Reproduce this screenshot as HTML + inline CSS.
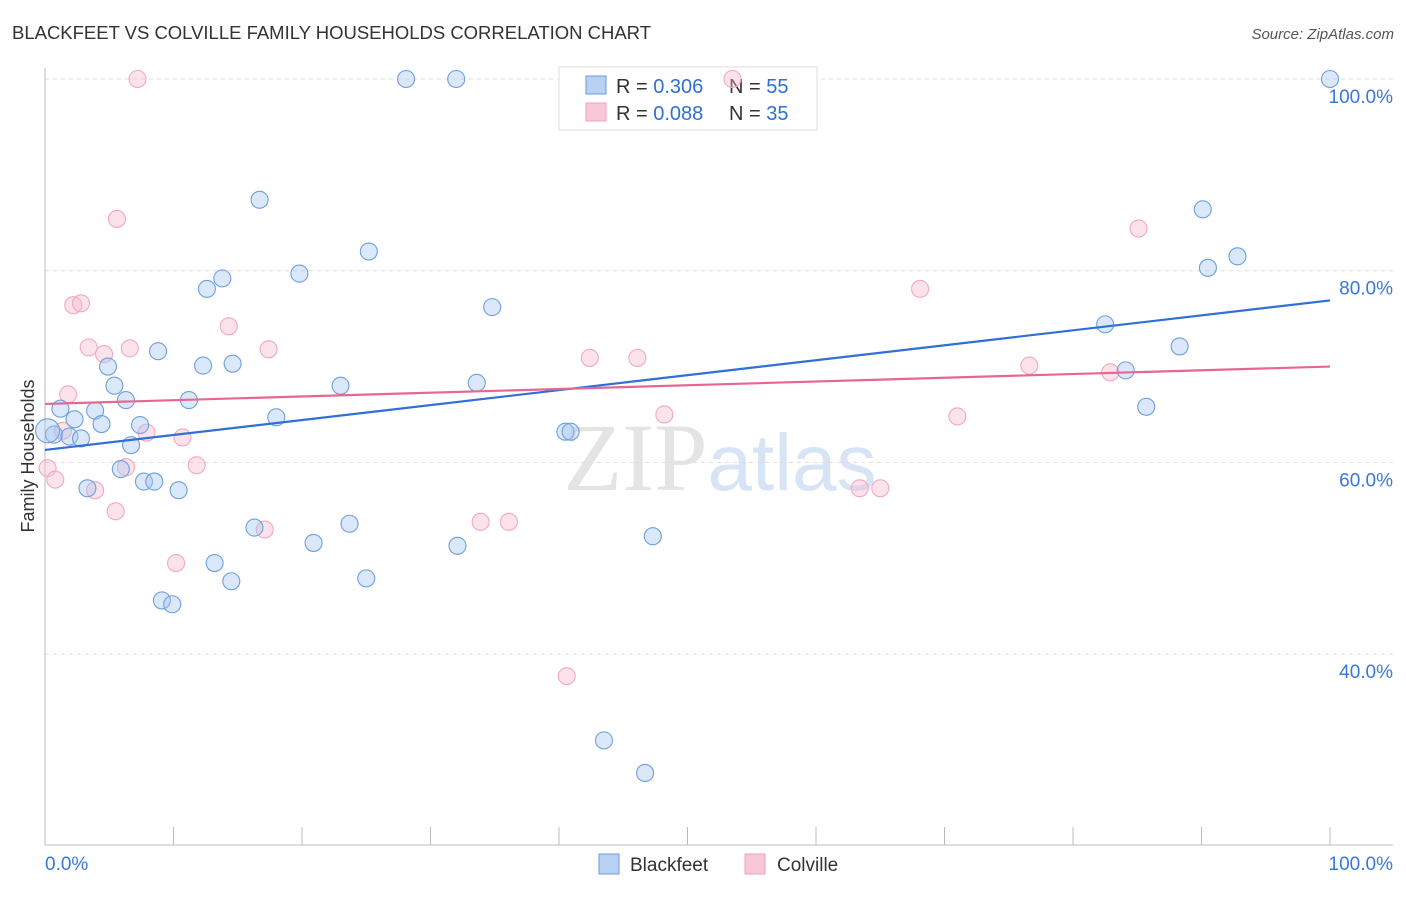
<!DOCTYPE html>
<html><head><meta charset="utf-8"><style>
body{margin:0;background:#fff;font-family:"Liberation Sans",sans-serif;}
</style></head><body>
<svg id="chart" width="1406" height="892" xmlns="http://www.w3.org/2000/svg" font-family="Liberation Sans, sans-serif">
<text x="12" y="39" font-size="18.5" fill="#333" textLength="639">BLACKFEET VS COLVILLE FAMILY HOUSEHOLDS CORRELATION CHART</text>
<text x="1394" y="39" font-size="15" fill="#555" text-anchor="end" font-style="italic">Source: ZipAtlas.com</text>
<text x="720" y="490" font-size="96" fill="#e4e4e4" text-anchor="middle" font-family="Liberation Serif, serif">ZIP<tspan fill="#d6e4f6" font-family="Liberation Sans, sans-serif" font-size="80">atlas</tspan></text>
<g id="grid"></g>
<g id="axes"></g>
<g>
<rect x="559" y="67" width="258" height="63" fill="#fff" stroke="#ddd"/>
<rect x="586" y="76" width="20" height="18" fill="#b9d2f4" stroke="#6a9be0"/>
<text x="616" y="93" font-size="20" fill="#333">R = <tspan fill="#2f6fd6">0.306</tspan></text>
<text x="729" y="93" font-size="20" fill="#333">N = <tspan fill="#2f6fd6">55</tspan></text>
<rect x="586" y="103" width="20" height="18" fill="#f9c8d6" stroke="#f0a0b8"/>
<text x="616" y="120" font-size="20" fill="#333">R = <tspan fill="#2f6fd6">0.088</tspan></text>
<text x="729" y="120" font-size="20" fill="#333">N = <tspan fill="#2f6fd6">35</tspan></text>
</g>
<g id="points"></g>
<g id="trends"></g>
<text transform="translate(34,456) rotate(-90)" font-size="18" fill="#333" text-anchor="middle">Family Households</text>
<g>
<rect x="599" y="854" width="20" height="20" fill="#b9d2f4" stroke="#6a9be0"/>
<text x="630" y="871" font-size="19" fill="#333">Blackfeet</text>
<rect x="745" y="854" width="20" height="20" fill="#f9c8d6" stroke="#f0a0b8"/>
<text x="777" y="871" font-size="19" fill="#333">Colville</text>
</g>
</svg>
<script>
const yTicks=[100,80,60,40];
const yTickLabels=["100.0%","80.0%","60.0%","40.0%"];
const blackfeetX=[100,28.1,32,16.7,25.2,19.8,13.8,12.6,34.8,8.8,12.3,14.6,4.9,5.4,23,33.6,6.3,11.2,1.2,3.9,18,2.3,4.4,7.4,0.7,1.9,2.8,6.7,5.9,7.7,8.5,3.3,10.4,16.3,23.7,20.9,32.1,47.3,13.2,14.5,25,9.1,9.9,40.5,40.9,43.5,46.7,82.5,84.1,85.7,90.1,90.5,92.8,88.3,0.2];
const blackfeetY=[100,100,100,87.4,82,79.7,79.2,78.1,76.2,71.6,70.1,70.3,70,68,68,68.3,66.5,66.5,65.6,65.4,64.7,64.5,64,63.9,62.9,62.7,62.5,61.8,59.3,58,58,57.3,57.1,53.2,53.6,51.6,51.3,52.3,49.5,47.6,47.9,45.6,45.2,63.2,63.2,31,27.6,74.4,69.6,65.8,86.4,80.3,81.5,72.1,63.3];
const colvilleX=[7.2,53.5,5.6,2.2,2.8,14.3,3.4,6.6,17.4,4.6,1.8,1.4,7.9,10.7,0.2,6.3,11.8,0.8,3.9,5.5,17.1,10.2,33.9,36.1,40.6,42.4,46.1,48.2,68.1,71,76.6,82.9,85.1,63.4,65];
const colvilleY=[100,100,85.4,76.4,76.6,74.2,72,71.9,71.8,71.3,67.1,63.3,63.1,62.6,59.4,59.5,59.7,58.2,57.1,54.9,53,49.5,53.8,53.8,37.7,70.9,70.9,65,78.1,64.8,70.1,69.4,84.4,57.3,57.3];
const trendX=[0,100];
const blackfeetTrend=[61.3,76.9];
const colvilleTrend=[66.1,70.0];
const NS="http://www.w3.org/2000/svg";
const xs=v=>45+v*12.85;
const ys=v=>79+(100-v)*9.585;
function mk(t,a,p){const e=document.createElementNS(NS,t);for(const k in a)e.setAttribute(k,a[k]);p.appendChild(e);return e;}
const grid=document.getElementById('grid'),axes=document.getElementById('axes'),pts=document.getElementById('points'),tr=document.getElementById('trends');
yTicks.forEach((t,i)=>{
 const l=mk('line',{x1:45,x2:1393,y1:ys(t),y2:ys(t),stroke:'#ddd','stroke-dasharray':'4,4'},grid);
 
 
 const tx=mk('text',{x:1393,y:ys(t)+24,'font-size':19,fill:'#3a78d8','text-anchor':'end'},grid);
 tx.textContent=yTickLabels[i];
 
 
});
const ax=mk('line',{x1:45,x2:1393,y1:845,y2:845,stroke:'#bbb'},axes);


const ay=mk('line',{x1:45,x2:45,y1:68,y2:845,stroke:'#bbb'},axes);


for(let i=0;i<=10;i++){const t=mk('line',{x1:xs(i*10),x2:xs(i*10),y1:827,y2:845,stroke:'#bbb'},axes);
 
 }
const x0=mk('text',{x:45,y:870,'font-size':19,fill:'#3a78d8'},axes);x0.textContent='0.0%';


const x1=mk('text',{x:1393,y:870,'font-size':19,fill:'#3a78d8','text-anchor':'end'},axes);x1.textContent='100.0%';


colvilleX.forEach((v,i)=>{const c=mk('circle',{cx:xs(v),cy:ys(colvilleY[i]),r:8.5,fill:'rgba(248,185,205,0.4)',stroke:'#f2a8bf','stroke-width':1.1},pts);
 
 });
blackfeetX.forEach((v,i)=>{const c=mk('circle',{cx:xs(v),cy:ys(blackfeetY[i]),r:i==54?12:8.5,fill:'rgba(165,198,240,0.4)',stroke:'#6e9fe0','stroke-width':1.1},pts);
 
 });
const lb=mk('line',{x1:xs(trendX[0]),x2:xs(trendX[1]),y1:ys(blackfeetTrend[0]),y2:ys(blackfeetTrend[1]),stroke:'#2f6fd6','stroke-width':2.2},tr);


const lc=mk('line',{x1:xs(trendX[0]),x2:xs(trendX[1]),y1:ys(colvilleTrend[0]),y2:ys(colvilleTrend[1]),stroke:'#e8668f','stroke-width':2.2},tr);


</script>
</body></html>
